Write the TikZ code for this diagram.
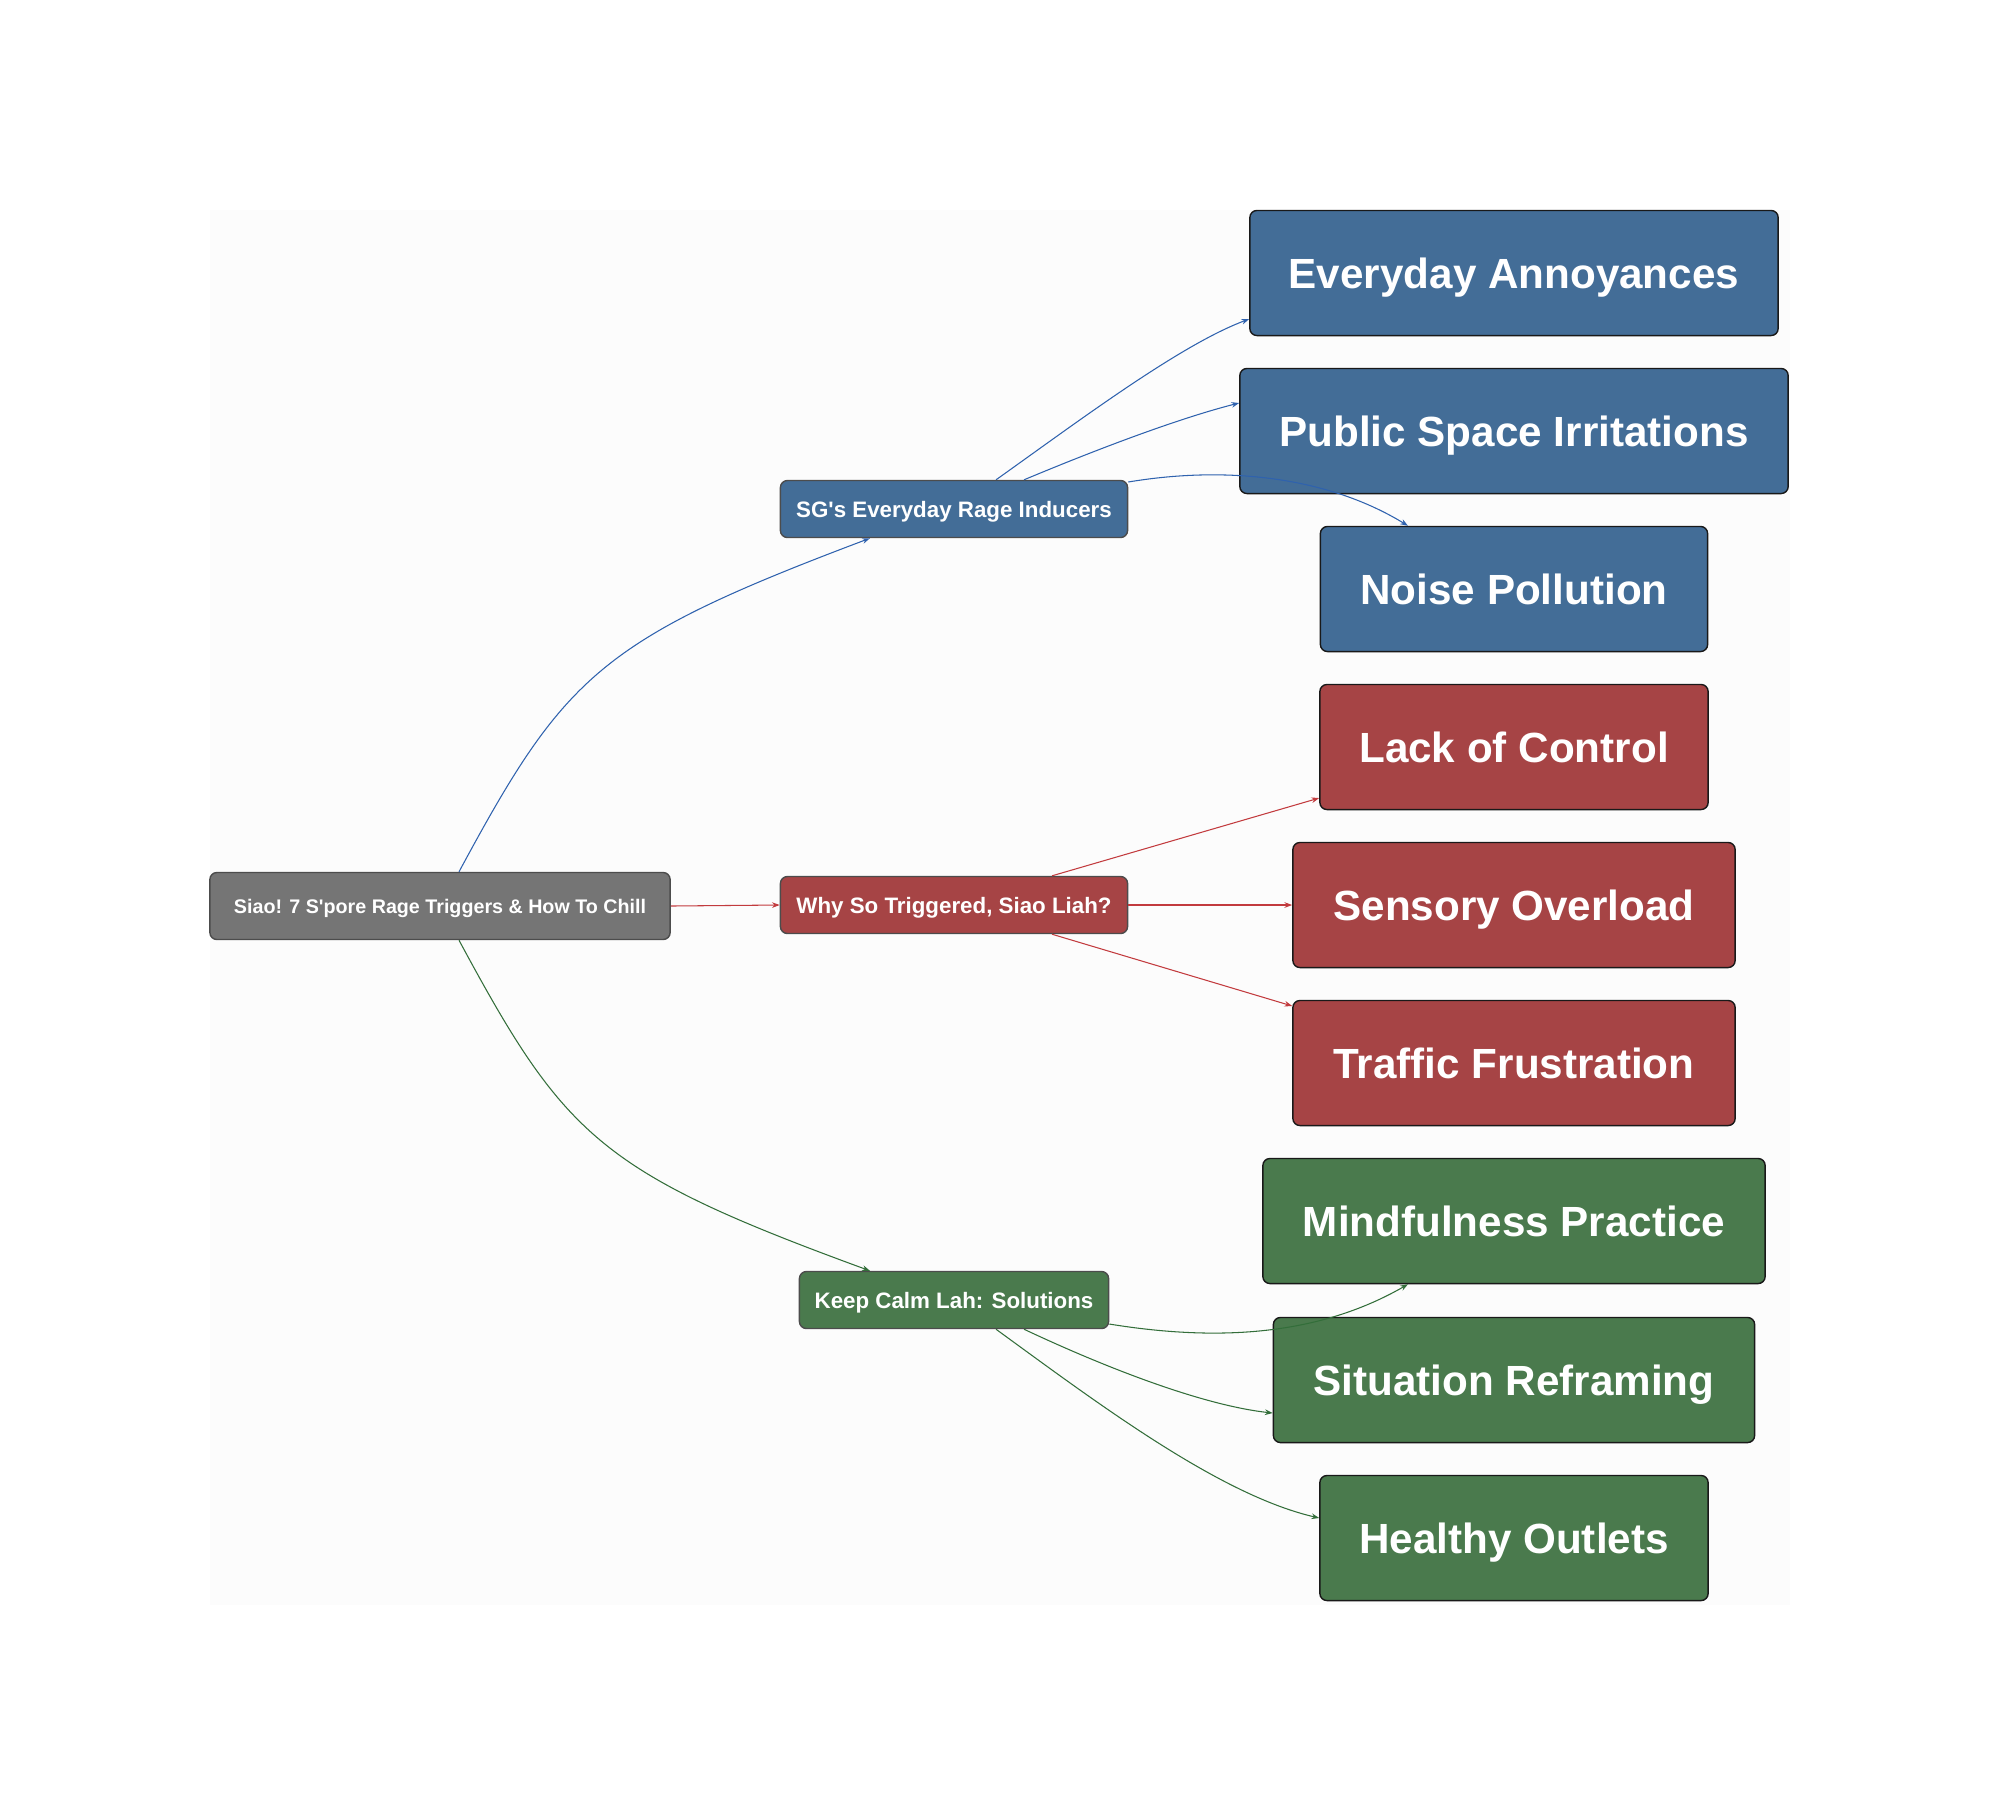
\documentclass[tikz,border=0pt]{standalone}
\usepackage{fontspec}
\setmainfont{Liberation Sans}
\usetikzlibrary{positioning}
\usetikzlibrary{arrows.meta}

\definecolor{rootgrey}{HTML}{757575}
\definecolor{sgblue}{HTML}{436D97}
\definecolor{whyred}{HTML}{A64445}
\definecolor{calmgreen}{HTML}{4A7A4D}
\definecolor{edgeblue}{HTML}{2F62AE}
\definecolor{edgered}{HTML}{C23B3E}
\definecolor{edgegreen}{HTML}{336E3A}

\begin{document}
\begin{tikzpicture}[x=0.01cm, y=-0.01cm,
		topic/.style={
			draw=black!70,
			rounded corners=2pt,
			text=white,
			font=\fontsize{6.35}{7}\selectfont\bfseries,
			minimum height=0.57cm,
			text depth=0pt,
			inner sep=0pt
		},
		leaf/.style={
			draw=black!90,
			rounded corners=2pt,
			text=white,
			font=\fontsize{12}{14}\selectfont\bfseries,
			minimum height=1.25cm,
			text depth=0pt,
			inner sep=0pt
		},
		link/.style={line width=0.3pt, -{Stealth[length=2.2pt, width=1.6pt]}}]
		\useasboundingbox (0,0) rectangle (2000,1811);
		\fill[black!1] (210,210) rectangle (1790,1605);
		
		\node[topic, fill=rootgrey, minimum width=4.6cm, minimum height=0.67cm, font=\fontsize{5.6}{7}\selectfont\bfseries] (root) at (440,906) {Siao! 7 S\textquotesingle pore Rage Triggers \& How To Chill};
		
		\node[topic, fill=sgblue, minimum width=3.47cm] (sg) at (954,509) {SG\textquotesingle s Everyday Rage Inducers};
		\node[topic, fill=whyred, minimum width=3.47cm] (why) at (954,905) {Why So Triggered, Siao Liah?};
		\node[topic, fill=calmgreen, minimum width=3.09cm] (calm) at (954,1300) {Keep Calm Lah: Solutions};
		
		\node[leaf, fill=sgblue, minimum width=5.28cm] (annoy) at (1514,273) {Everyday Annoyances};
		\node[leaf, fill=sgblue, minimum width=5.48cm] (public) at (1514,431) {Public Space Irritations};
		\node[leaf, fill=sgblue, minimum width=3.87cm] (noise) at (1514,589) {Noise Pollution};
		
		\node[leaf, fill=whyred, minimum width=3.88cm] (control) at (1514,747) {Lack of Control};
		\node[leaf, fill=whyred, minimum width=4.42cm] (sensory) at (1514,905) {Sensory Overload};
		\node[leaf, fill=whyred, minimum width=4.42cm] (traffic) at (1514,1063) {Traffic Frustration};
		
		\node[leaf, fill=calmgreen, minimum width=5.02cm] (mind) at (1514,1221) {Mindfulness Practice};
		\node[leaf, fill=calmgreen, minimum width=4.81cm] (reframe) at (1514,1380) {Situation Reframing};
		\node[leaf, fill=calmgreen, minimum width=3.88cm] (outlets) at (1514,1538) {Healthy Outlets};
		
		% root to topics
		\draw[link, edgeblue] ([xshift=0.19cm]root.north) .. controls (565,675) and (600,640) .. ([xshift=-0.84cm]sg.south);
		\draw[link, edgered] (root.east) -- (why.west);
		\draw[link, edgegreen] ([xshift=0.19cm]root.south) .. controls (565,1137) and (600,1172) .. ([xshift=-0.84cm]calm.north);
		
		% blue branch
		\draw[link, edgeblue] ([xshift=0.42cm]sg.north) .. controls (1080,420) and (1180,345) .. ([yshift=-0.46cm]annoy.west);
		\draw[link, edgeblue] ([xshift=0.7cm]sg.north) .. controls (1100,448) and (1180,418) .. ([yshift=0.28cm]public.west);
		\draw[link, edgeblue] ([yshift=0.27cm]sg.east) .. controls (1230,465) and (1330,478) .. ([xshift=-1.06cm]noise.north);
		
		% red branch
		\draw[link, edgered] ([xshift=0.98cm]why.north) -- ([yshift=-0.51cm]control.west);
		\draw[link, edgered] (why.east) -- (sensory.west);
		\draw[link, edgered] ([xshift=0.98cm]why.south) -- ([yshift=0.57cm]traffic.west);
		
		% green branch
		\draw[link, edgegreen] ([yshift=-0.24cm]calm.east) .. controls (1220,1342) and (1320,1335) .. ([xshift=-1.06cm]mind.south);
		\draw[link, edgegreen] ([xshift=0.7cm]calm.south) .. controls (1100,1365) and (1200,1405) .. ([yshift=-0.33cm]reframe.west);
		\draw[link, edgegreen] ([xshift=0.42cm]calm.south) .. controls (1100,1405) and (1220,1495) .. ([yshift=0.2cm]outlets.west);
	\end{tikzpicture}
\end{document}
